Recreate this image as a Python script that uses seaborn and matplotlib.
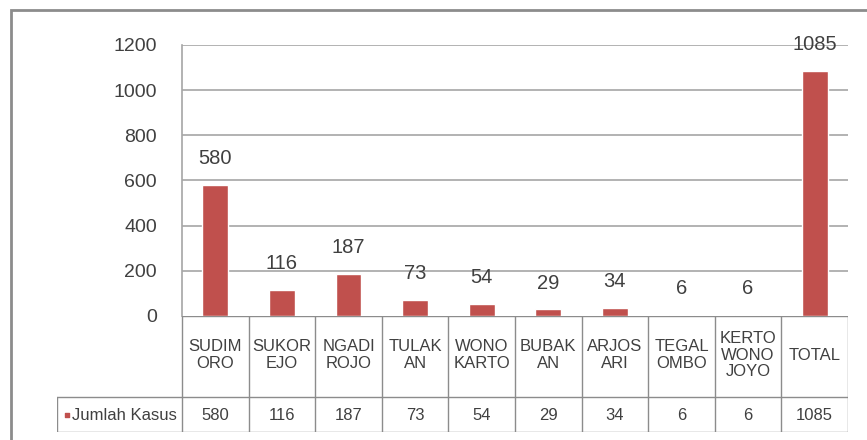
import matplotlib
matplotlib.use('Agg')
import matplotlib.pyplot as plt
import matplotlib.patches as patches
import seaborn as sns
import pandas as pd

# Data kasus per desa
desa = ['SUDIM\nORO', 'SUKOR\nEJO', 'NGADI\nROJO', 'TULAK\nAN', 'WONO\nKARTO',
        'BUBAK\nAN', 'ARJOS\nARI', 'TEGAL\nOMBO', 'KERTO\nWONO\nJOYO', 'TOTAL']
jumlah_kasus = [580, 116, 187, 73, 54, 29, 34, 6, 6, 1085]
nama_seri = 'Jumlah Kasus'
yticks = [0, 200, 400, 600, 800, 1000, 1200]

tabela = pd.DataFrame({'desa': desa, 'kasus': jumlah_kasus})

sns.set_theme(style='white')
plt.rcParams['font.family'] = ['Liberation Sans', 'DejaVu Sans']

merah = '#C0504D'
abu = '#a6a6a6'
teks = '#404040'

W, H = 867, 440
fig = plt.figure(figsize=(W / 100, H / 100), dpi=100)
fig.patch.set_facecolor('white')

# eixo principal (area do grafico)
ax = fig.add_axes([182 / W, 1 - 316 / H, 666 / W, 271 / H])
sns.barplot(data=tabela, x='desa', y='kasus', color=merah, saturation=1,
            width=0.39, ax=ax)
ax.set_xlim(-0.5, 9.5)
ax.set_ylim(0, 1200)
ax.set_yticks(yticks)
ax.set_yticklabels([str(v) for v in yticks], fontsize=14, color=teks)
ax.tick_params(axis='y', length=0, pad=18)
ax.set_xticks([])
ax.set_xlabel('')
ax.set_ylabel('')
for v in yticks[1:]:
    ax.axhline(v, color=abu, lw=1.2, zorder=0)
for s in ['top', 'right', 'bottom']:
    ax.spines[s].set_visible(False)
ax.spines['left'].set_color(abu)
ax.spines['left'].set_linewidth(1.2)

# rotulos de dados acima das barras
for i, v in enumerate(jumlah_kasus):
    ax.annotate(str(v), (i, v), xytext=(0, 19), textcoords='offset points',
                ha='center', va='center', fontsize=14.5, color=teks,
                clip_on=False, annotation_clip=False)

# tabela de dados abaixo
col_px = 666 / 10
lab_cols = (182 - 57) / col_px
axt = fig.add_axes([57 / W, 1 - 432 / H, (848 - 57) / W, (432 - 316) / H])
axt.set_xlim(-0.5 - lab_cols, 9.5)
axt.set_ylim(116, 0)
axt.axis('off')
lw = 1.0
lc = '#8c8c8c'
axt.plot([-0.5, 9.5], [0, 0], color=lc, lw=lw)
axt.plot([-0.5 - lab_cols, 9.5], [81, 81], color=lc, lw=lw)
axt.plot([-0.5 - lab_cols, 9.5], [116, 116], color=lc, lw=lw)
axt.plot([-0.5 - lab_cols, -0.5 - lab_cols], [81, 116], color=lc, lw=lw)
for k in range(11):
    axt.plot([k - 0.5, k - 0.5], [0, 116], color=lc, lw=lw)
for i, (d, v) in enumerate(zip(desa, jumlah_kasus)):
    axt.text(i, 39, d, ha='center', va='center', fontsize=12, color=teks,
             linespacing=1.1)
    axt.text(i, 99, str(v), ha='center', va='center', fontsize=12, color=teks)
axt.scatter([-0.5 - lab_cols + 0.15], [99], marker='s', s=12, color=merah)
axt.text(-0.5 - lab_cols + 0.22, 99, nama_seri, ha='left', va='center',
         fontsize=12, color=teks)

# moldura externa
fig.patches.append(patches.Rectangle((11 / W, -0.1), 1.2, 1.1 - 10 / H,
                                     transform=fig.transFigure, fill=False,
                                     edgecolor='#8c8c8c', lw=2))

plt.savefig('out.png', dpi=100)
